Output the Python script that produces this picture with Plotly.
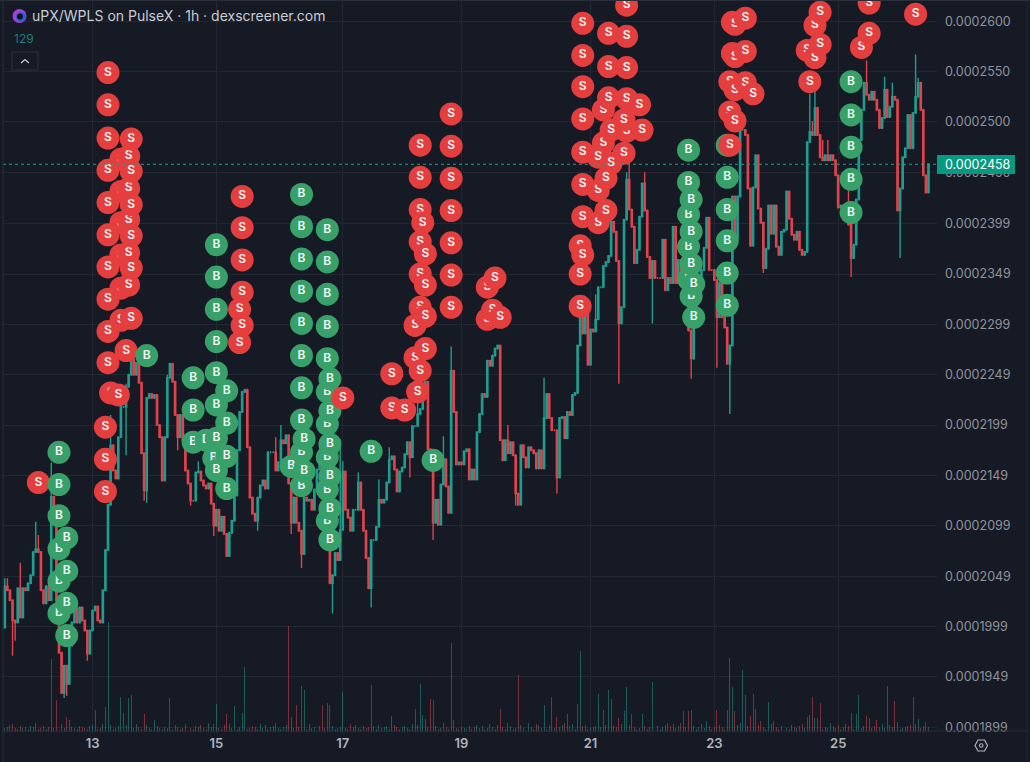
import plotly.graph_objects as go

# prices are in units of 1e-7 (2600 = 0.0002600)
first_open = 1998
closes = [
 2039,2035,2025,2005,2003,2037,2008,2037,2035,2042,
 2050,2073,2076,2073,2035,2022,2039,2025,2128,2100,
 2025,1973,1933,1960,1942,1980,2003,2017,2003,2018,
 2005,1995,1972,1995,2015,2019,2005,2003,2035,2075,
 2120,2179,2154,2146,2187,2217,2217,2237,2249,2264,
 2249,2261,2241,2171,2134,2226,2230,2226,2229,2199,
 2187,2144,2187,2246,2260,2242,2209,2187,2209,2184,
 2154,2141,2124,2124,2152,2153,2144,2139,2136,2141,
 2121,2099,2115,2094,2108,2091,2069,2092,2104,2129,
 2174,2212,2232,2234,2177,2127,2111,2104,2127,2139,
 2144,2136,2172,2172,2172,2154,2162,2184,2181,2189,
 2141,2102,2127,2102,2094,2071,2127,2124,2125,2115,
 2135,2155,2160,2135,2100,2075,2042,2050,2072,2065,
 2095,2153,2115,2107,2094,2115,2115,2142,2115,2094,
 2067,2037,2085,2085,2098,2125,2122,2125,2142,2165,
 2168,2155,2133,2153,2157,2170,2182,2167,2198,2198,
 2210,2215,2235,2242,2175,2163,2102,2125,2100,2140,
 2165,2138,2112,2253,2212,2160,2162,2160,2173,2175,
 2145,2155,2145,2192,2210,2230,2227,2263,2258,2268,
 2275,2278,2184,2164,2184,2171,2182,2169,2131,2120,
 2179,2167,2157,2177,2174,2171,2156,2174,2156,2206,
 2230,2206,2194,2194,2147,2206,2207,2186,2212,2209,
 2229,2231,2278,2310,2290,2310,2259,2294,2292,2304,
 2336,2336,2357,2361,2367,2401,2391,2362,2300,2316,
 2403,2443,2413,2396,2360,2373,2406,2439,2412,2366,
 2345,2362,2345,2345,2345,2383,2333,2345,2340,2396,
 2340,2363,2338,2348,2323,2293,2265,2313,2328,2343,
 2353,2375,2405,2353,2353,2343,2306,2340,2306,2296,
 2260,2278,2426,2385,2426,2492,2492,2487,2434,2377,
 2435,2467,2414,2400,2355,2374,2417,2389,2417,2376,
 2368,2391,2393,2431,2404,2388,2383,2391,2373,2368,
 2371,2480,2490,2487,2514,2487,2465,2462,2467,2462,
 2467,2462,2447,2415,2417,2403,2412,2398,2365,2378,
 2423,2482,2512,2539,2527,2522,2530,2522,2512,2494,
 2504,2532,2505,2515,2525,2522,2412,2434,2465,2474,
 2507,2474,2509,2525,2539,2512,2447,2430,2458,
]
upper_wicks = {0:8,1:8,6:25,12:27,13:14,18:34,41:30,47:3,63:3,75:10,105:15,107:15,116:20,130:90,131:10,
               137:10,145:20,149:12,160:15,170:23,173:24,195:15,209:40,229:25,241:7,242:30,248:11,
               312:38,313:11,314:20,317:17,319:15,327:20,334:22,341:13,344:14,353:42,354:5}
lower_wicks = {3:35,4:18,23:5,24:12,32:7,47:48,54:10,55:12,67:13,72:5,81:10,98:10,111:11,115:14,127:30,
               142:19,157:20,166:17,198:12,214:16,238:60,251:45,266:20,276:50,281:50,294:5,328:19,347:47}
default_wick = 1

base_volume = [
 4,5,7,8,4,3,6,4,5,3,6,5,9,3,4,6,3,5,7,4,
 3,5,8,4,6,3,5,4,3,6,5,4,3,6,7,5,3,4,8,6,
 5,7,3,4,6,5,3,7,6,5,4,8,5,3,6,7,4,3,5,6,
 4,3,5,4,6,3,7,5,3,4,8,5,4,3,6,5,7,4,3,9,
 5,8,6,4,3,7,5,8,4,6,3,5,9,7,3,4,6,5,3,8,
 4,7,3,5,6,9,4,3,5,7,8,6,4,3,5,7,6,3,8,4,
 5,9,6,3,4,7,5,6,3,4,5,3,4,3,8,5,7,4,3,6,
 4,5,3,6,3,7,4,5,6,3,4,7,5,3,5,6,4,3,8,5,
 7,4,6,3,5,4,8,6,3,4,9,5,3,6,7,4,3,5,4,3,
 6,3,5,7,4,6,3,4,8,5,3,7,4,5,3,9,6,3,4,5,
 7,4,6,9,5,3,8,7,4,5,3,7,6,4,3,5,7,9,4,6,
 8,3,4,5,6,7,3,4,5,6,3,5,9,7,4,3,6,5,4,8,
 3,6,7,4,5,3,4,8,6,3,5,7,4,6,3,5,7,9,6,8,
 4,6,9,3,5,8,4,6,3,5,8,4,7,6,3,5,8,7,5,3,
 4,5,6,3,7,9,3,5,6,3,8,4,7,9,5,3,6,8,4,5,
 3,6,9,4,3,7,5,4,6,8,4,3,5,7,3,4,6,3,5,4,
 9,6,4,7,3,5,8,6,4,3,5,7,4,6,5,3,4,6,7,5,
 8,4,9,7,5,8,6,3,4,5,6,7,5,8,9,4,6,7,5,
]
volume_spikes = {18:73,20:32,21:27,24:15,25:12,35:22,39:25,40:110,45:35,46:19,48:34,49:37,54:18,58:12,64:34,
                 82:28,86:18,89:26,92:19,93:65,110:106,111:15,113:27,115:46,116:42,123:27,125:29,126:27,
                 131:40,142:47,150:16,159:23,161:48,162:17,163:13,165:33,166:32,173:89,174:12,192:23,199:57,
                 209:27,212:35,214:15,218:18,222:28,223:81,230:38,232:22,234:42,235:33,238:14,240:21,241:45,
                 243:18,247:18,251:50,263:21,265:21,266:22,272:11,276:22,280:22,281:74,282:45,283:21,286:62,
                 287:37,289:16,290:38,291:23,293:11,296:30,298:11,311:15,312:17,313:35,314:14,315:14,316:29,
                 328:19,330:18,331:37,334:16,335:14,338:12,342:46,345:31,346:10,352:35,354:13,357:10}

# trades in draw order: side, candle index, prices
trades = [
 ("S",13,[2142]),
 ("B",21,[2172,2140,2109,2076,2044,2012]),
 ("B",24,[2087,2054,2022,1990]),
 ("S",45,[2463,2431,2400,2368,2335,2303]),
 ("S",48,[2466,2434,2403,2370,2338]),
 ("S",40,[2549,2517,2484,2452,2420,2388,2356,2324,2292,2261]),
 ("S",41,[2231]),
 ("S",39,[2197,2165,2133]),
 ("S",49,[2483,2451,2418,2387,2355,2305]),
 ("S",47,[2273]),
 ("S",44,[2229]),
 ("B",55,[2268]),
 ("S",91,[2314,2281]),
 ("S",92,[2426,2395,2363,2331,2298]),
 ("B",73,[2246,2214,2182]),
 ("B",78,[2184]),
 ("B",81,[2166]),
 ("B",82,[2378,2346,2314,2282,2251,2219,2186,2154]),
 ("B",86,[2233,2201,2168,2136]),
 ("B",115,[2428,2396,2364,2332,2300,2268,2236,2204,2172,2139]),
 ("B",111,[2158]),
 ("B",116,[2185,2153]),
 ("B",125,[2393,2361,2329,2297,2265,2232,2200,2167,2135,2104]),
 ("B",126,[2245,2213,2180,2148,2116,2085]),
 ("S",131,[2226]),
 ("B",142,[2173]),
 ("B",166,[2164]),
 ("S",150,[2250,2216]),
 ("S",155,[2214]),
 ("S",159,[2298,2266]),
 ("S",161,[2477,2445,2413,2381,2349,2316,2253]),
 ("S",162,[2400]),
 ("S",163,[2369,2338,2307,2275]),
 ("S",160,[2232]),
 ("S",173,[2508,2476,2444,2412,2380,2348,2316]),
 ("S",187,[2336,2304]),
 ("S",189,[2313]),
 ("S",190,[2345]),
 ("S",192,[2306]),
 ("S",223,[2377,2349,2317]),
 ("S",224,[2598,2566,2535,2503,2470,2438,2406,2368]),
 ("S",232,[2512,2479]),
 ("S",241,[2491]),
 ("S",234,[2588,2555,2524]),
 ("S",241,[2616,2585,2554,2523]),
 ("S",240,[2502,2469]),
 ("S",246,[2517]),
 ("S",230,[2465,2432,2400]),
 ("S",235,[2492,2459]),
 ("S",233,[2444,2412]),
 ("S",247,[2492]),
 ("B",265,[2472,2440,2408,2376,2344]),
 ("B",266,[2423,2391,2359,2327]),
 ("B",267,[2339,2306]),
 ("B",280,[2477,2445,2413,2382,2350,2318]),
 ("S",281,[2540,2510,2477]),
 ("S",282,[2599,2568]),
 ("S",283,[2597,2565,2532,2501]),
 ("S",287,[2603,2570,2539]),
 ("S",290,[2528]),
 ("S",311,[2571]),
 ("S",312,[2540]),
 ("S",314,[2596,2564]),
 ("S",316,[2609,2577]),
 ("B",328,[2540,2507,2475,2443,2410]),
 ("S",332,[2574]),
 ("S",335,[2618,2588]),
 ("S",353,[2607]),
]

price_ticks = [2600,2550,2500,2450,2399,2349,2299,2249,2199,2149,2099,2049,1999,1949,1899]
price_labels = ["0.000%d" % p for p in price_ticks]
day_ticks = [34,82,131,177,227,275,323]
day_labels = ["13","15","17","19","21","23","25"]
last_price = 2458
title_text = "uPX/WPLS on PulseX · 1h · dexscreener.com"

BG = "#161a25"
GRID = "#232731"
TEAL = "#1f9d8e"
RED = "#e0434b"
MARK = {"S": "#e53e3e", "B": "#38a169"}
W, H = 1030, 762
L, R, T, B = 3, 93, 0, 28

n = len(closes)
idx = list(range(n))
opens = [first_open] + closes[:-1]
highs = [max(o, c) + upper_wicks.get(i, default_wick) for i, (o, c) in enumerate(zip(opens, closes))]
lows = [min(o, c) - lower_wicks.get(i, default_wick) for i, (o, c) in enumerate(zip(opens, closes))]
volumes = [volume_spikes.get(i, base_volume[i % len(base_volume)]) for i in idx]
vol_colors = ["rgba(31,157,142,0.5)" if c >= o else "rgba(224,67,75,0.5)" for o, c in zip(opens, closes)]

fig = go.Figure()
fig.add_trace(go.Bar(x=idx, y=volumes, width=0.38, marker=dict(color=vol_colors, line=dict(width=0)),
                     yaxis="y", hoverinfo="skip", showlegend=False))
fig.add_trace(go.Candlestick(x=idx, open=opens, high=highs, low=lows, close=closes, yaxis="y2",
                             whiskerwidth=0, showlegend=False, hoverinfo="skip",
                             increasing=dict(line=dict(color=TEAL, width=1.4), fillcolor=TEAL),
                             decreasing=dict(line=dict(color=RED, width=1.4), fillcolor=RED)))
for side, i, prices in trades:
    for p in prices:
        fig.add_trace(go.Scatter(x=[i], y=[p], yaxis="y2", mode="markers+text", text=[side],
                                 textposition="middle center",
                                 textfont=dict(family="Inter", size=12, color="#f4f7f5", weight=600),
                                 marker=dict(size=23, color=MARK[side], line=dict(width=0)),
                                 hoverinfo="skip", showlegend=False))


def fx(px):
    return (px - L) / (W - L - R)


def fy(py):
    return 1 - (py - T) / (H - T - B)


shapes = [
    dict(type="line", xref="paper", yref="y2", x0=0, x1=1, y0=last_price, y1=last_price,
         line=dict(color="#1f9d8e", width=1, dash="dot"), layer="above"),
    dict(type="rect", xref="paper", yref="paper", x0=fx(937), x1=fx(1015), y0=fy(174), y1=fy(155),
         fillcolor="#089981", line=dict(width=0), layer="above"),
    dict(type="rect", xref="paper", yref="paper", x0=fx(12), x1=fx(38), y0=fy(70), y1=fy(52),
         fillcolor="rgba(0,0,0,0)", line=dict(color="#2e323d", width=1), layer="above"),
    dict(type="path", xref="paper", yref="paper", layer="above", line=dict(color="#c8ccd4", width=1.2),
         path="M %f %f L %f %f L %f %f" % (fx(21), fy(63), fx(25), fy(59.5), fx(29), fy(63))),
    dict(type="circle", xref="paper", yref="paper", x0=fx(12.5), x1=fx(26.5), y0=fy(23), y1=fy(9),
         fillcolor="#a63fd8", line=dict(width=0), layer="above"),
    dict(type="circle", xref="paper", yref="paper", x0=fx(16), x1=fx(26), y0=fy(22), y1=fy(12),
         fillcolor="#2c5fd0", line=dict(width=0), layer="above"),
    dict(type="circle", xref="paper", yref="paper", x0=fx(17), x1=fx(23), y0=fy(19.5), y1=fy(13.5),
         fillcolor="#12131c", line=dict(width=0), layer="above"),
    dict(type="path", xref="paper", yref="paper", layer="above", line=dict(color="#b2b5be", width=1.2),
         path="M %f %f L %f %f L %f %f L %f %f L %f %f L %f %f Z" % (
             fx(975), fy(745.5), fx(978), fy(740), fx(984.5), fy(740),
             fx(987.5), fy(745.5), fx(984.5), fy(751), fx(978), fy(751))),
    dict(type="circle", xref="paper", yref="paper", x0=fx(979.5), x1=fx(983), y0=fy(747.3), y1=fy(743.8),
         fillcolor="rgba(0,0,0,0)", line=dict(color="#b2b5be", width=1.1), layer="above"),
    dict(type="line", xref="paper", yref="paper", x0=0, x1=0, y0=fy(762), y1=fy(0),
         line=dict(color="#2a2e39", width=1), layer="above"),
    dict(type="line", xref="paper", yref="paper", x0=fx(0), x1=fx(1030), y0=fy(0.5), y1=fy(0.5),
         line=dict(color="#2a2e39", width=1), layer="above"),
    dict(type="line", xref="paper", yref="paper", x0=0, x1=fx(1027), y0=fy(731), y1=fy(731),
         line=dict(color="#262a34", width=1), layer="above"),
    dict(type="line", xref="paper", yref="paper", x0=fx(1027), x1=fx(1027), y0=fy(762), y1=fy(0),
         line=dict(color="#22262f", width=1), layer="above"),
]
annotations = [
    dict(xref="paper", yref="paper", x=fx(30), y=fy(16), xanchor="left", yanchor="middle", showarrow=False,
         text=title_text, font=dict(family="Inter", size=14, color="#c9ccd4")),
    dict(xref="paper", yref="paper", x=fx(12), y=fy(39), xanchor="left", yanchor="middle", showarrow=False,
         text="129", font=dict(family="Inter", size=12, color="#1d7f74")),
    dict(xref="paper", yref="paper", x=fx(977.5), y=fy(164.5), xanchor="center", yanchor="middle", showarrow=False,
         text="0.000%d" % last_price, font=dict(family="Inter", size=12.5, color="#ffffff")),
]

fig.update_layout(
    width=W, height=H, margin=dict(l=L, r=R, t=T, b=B, pad=0),
    paper_bgcolor=BG, plot_bgcolor=BG, showlegend=False, hovermode=False, dragmode=False,
    bargap=0, shapes=shapes, annotations=annotations,
    xaxis=dict(range=[-0.7, 361.3], tickvals=day_ticks, ticktext=day_labels, showgrid=True, gridcolor=GRID,
               gridwidth=1, zeroline=False, showline=False, ticks="", rangeslider=dict(visible=False),
               tickfont=dict(family="Inter", size=13, color="#b2b5be", weight=600)),
    yaxis=dict(range=[-2, 732], visible=False, fixedrange=True),
    yaxis2=dict(range=[1892.3, 2621.1], overlaying="y", side="right", tickvals=price_ticks, ticktext=price_labels,
                showgrid=True, gridcolor=GRID, gridwidth=1, zeroline=False, showline=False, ticks="",
                ticklabelstandoff=7, tickfont=dict(family="Inter", size=12.5, color="#8f939d")),
)

fig.write_html("out.html", config={"displayModeBar": False},
               post_script="document.body.style.margin='0';document.body.style.background='%s';" % BG)
